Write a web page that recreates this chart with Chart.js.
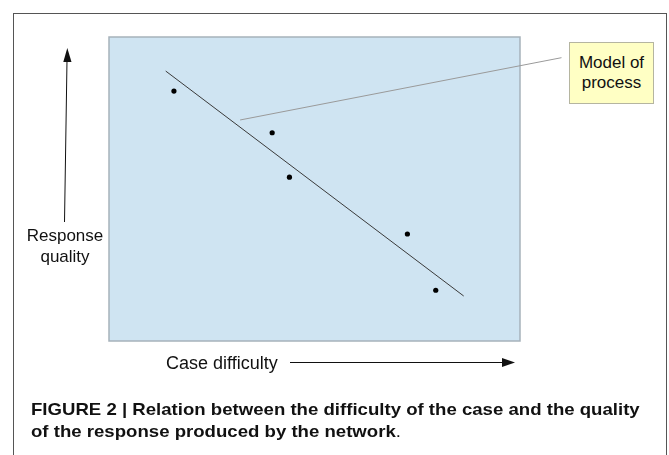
<!DOCTYPE html>
<html>
<head>
<meta charset="utf-8">
<script src="https://cdn.jsdelivr.net/npm/chart.js@4/dist/chart.umd.min.js"></script>
<style>
  html, body { margin: 0; padding: 0; background: #fff; }
  #wrap { position: relative; width: 669px; height: 455px; overflow: hidden; font-family: "Liberation Sans", Arial, sans-serif; }
  #frame { position: absolute; left: 13px; top: 13px; width: 654px; height: 460px; border: 1px solid #555; box-sizing: border-box; }
  canvas { position: absolute; left: 0; top: 0; }
  .lbl { position: absolute; color: #111; text-align: center; white-space: nowrap; }
  #ylabel { left: 19px; top: 225px; width: 92px; font-size: 17px; line-height: 21px; }
  #xlabel { left: 166px; top: 352px; font-size: 18px; line-height: 22px; }
  #callout { position: absolute; left: 569px; top: 42px; width: 85px; height: 62px; box-sizing: border-box;
             background: #ffffc4; border: 1px solid #b5b5a0; font-size: 17px; line-height: 20px;
             text-align: center; padding-top: 10px; color: #111; }
  #caption { position: absolute; left: 31px; top: 399px; font-size: 17px; line-height: 22px; font-weight: bold; color: #111;
             white-space: nowrap; transform: scaleX(1.094); transform-origin: 0 0; }
  #caption span { font-weight: normal; }
</style>
</head>
<body>
<div id="wrap">
  <div id="frame"></div>
  <canvas id="chart" width="669" height="455"></canvas>
  <div class="lbl" id="ylabel">Response<br>quality</div>
  <div class="lbl" id="xlabel">Case difficulty</div>
  <div id="callout">Model of<br>process</div>
  <div id="caption">FIGURE 2 | Relation between the difficulty of the case and the quality<br>of the response produced by the network<span>.</span></div>
</div>
<script>
// ── Data (axis units 0–100, the original has no ticks) ──────────────────────
const difficulty = [15.8, 39.7, 43.9, 72.6, 79.5];
const quality    = [82.2, 68.5, 53.9, 35.2, 16.7];

// fitted "model of process" line, end points
const modelX = [13.8, 86.3];
const modelY = [88.8, 14.8];

// leader line from the model line to the callout box
const leaderX = [31.9, 110.1];
const leaderY = [72.7, 93.2];

const toPoints = (xs, ys) => xs.map((x, i) => ({ x, y: ys[i] }));

// ── Plot background + hand-drawn axis arrows ────────────────────────────────
const backdrop = {
  id: "backdrop",
  beforeDatasetsDraw(chart) {
    const { ctx, chartArea: a } = chart;
    ctx.save();
    ctx.fillStyle = "#cfe4f2";
    ctx.fillRect(a.left, a.top, a.right - a.left, a.bottom - a.top);
    ctx.strokeStyle = "#a6b2bb";
    ctx.lineWidth = 1.5;
    ctx.strokeRect(a.left, a.top, a.right - a.left, a.bottom - a.top);
    ctx.restore();
  },
  afterDraw(chart) {
    const { ctx } = chart;
    ctx.save();
    ctx.strokeStyle = "#111";
    ctx.fillStyle = "#111";
    ctx.lineWidth = 1;
    // vertical arrow (response quality)
    ctx.beginPath();
    ctx.moveTo(64.5, 222);
    ctx.lineTo(67, 60);
    ctx.stroke();
    ctx.beginPath();
    ctx.moveTo(67.3, 48);
    ctx.lineTo(63.3, 62);
    ctx.lineTo(71.5, 62);
    ctx.closePath();
    ctx.fill();
    // horizontal arrow (case difficulty)
    ctx.beginPath();
    ctx.moveTo(290, 362.5);
    ctx.lineTo(504, 362.5);
    ctx.stroke();
    ctx.beginPath();
    ctx.moveTo(515, 362.5);
    ctx.lineTo(502, 358);
    ctx.lineTo(502, 367);
    ctx.closePath();
    ctx.fill();
    ctx.restore();
  }
};

new Chart(document.getElementById("chart"), {
  type: "scatter",
  data: {
    datasets: [
      {
        label: "Cases",
        data: toPoints(difficulty, quality),
        pointRadius: 2.6,
        pointBackgroundColor: "#000",
        pointBorderWidth: 0,
      },
      {
        label: "Model",
        type: "line",
        data: toPoints(modelX, modelY),
        borderColor: "#3a3a3a",
        borderWidth: 1,
        pointRadius: 0,
        fill: false,
      },
      {
        label: "Leader",
        type: "line",
        data: toPoints(leaderX, leaderY),
        borderColor: "#9a9a9a",
        borderWidth: 1,
        pointRadius: 0,
        fill: false,
        clip: false,
      }
    ]
  },
  plugins: [backdrop],
  options: {
    responsive: false,
    animation: false,
    layout: { padding: { left: 109, right: 149, top: 37, bottom: 114 } },
    plugins: { legend: { display: false }, tooltip: { enabled: false } },
    scales: {
      x: { type: "linear", min: 0, max: 100, display: false },
      y: { type: "linear", min: 0, max: 100, display: false }
    }
  }
});
</script>
</body>
</html>
